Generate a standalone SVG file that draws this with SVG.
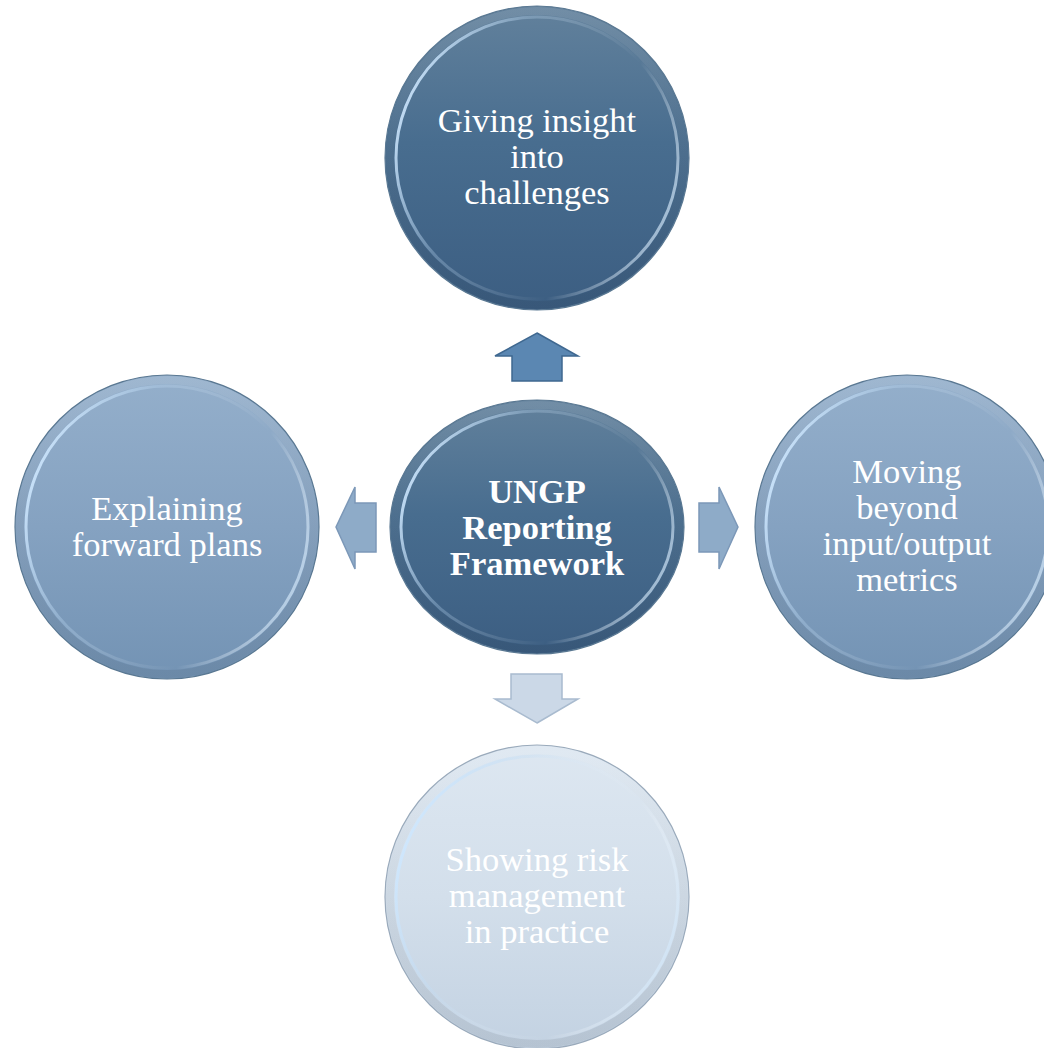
<svg xmlns="http://www.w3.org/2000/svg" width="1044" height="1048" viewBox="0 0 1044 1048">
  <defs>
    <linearGradient id="gDark" x1="0" y1="0" x2="0" y2="1">
      <stop offset="0" stop-color="#62819c"/>
      <stop offset="0.45" stop-color="#486d8f"/>
      <stop offset="1" stop-color="#3c5e82"/>
    </linearGradient>
    <linearGradient id="gMid" x1="0" y1="0" x2="0" y2="1">
      <stop offset="0" stop-color="#94afcb"/>
      <stop offset="0.5" stop-color="#85a2c1"/>
      <stop offset="1" stop-color="#7393b4"/>
    </linearGradient>
    <linearGradient id="gLight" x1="0" y1="0" x2="0" y2="1">
      <stop offset="0" stop-color="#dde7f1"/>
      <stop offset="0.5" stop-color="#d3dfeb"/>
      <stop offset="1" stop-color="#c3d2e2"/>
    </linearGradient>
    <linearGradient id="rim" x1="0" y1="0.3" x2="1" y2="0.7">
      <stop offset="0" stop-color="#cfe8ff" stop-opacity="0.95"/>
      <stop offset="0.3" stop-color="#c0dcf5" stop-opacity="0.3"/>
      <stop offset="0.7" stop-color="#ffffff" stop-opacity="0.0"/>
      <stop offset="1" stop-color="#cfe6fa" stop-opacity="0.75"/>
    </linearGradient>
    <linearGradient id="shade" x1="0" y1="0" x2="0" y2="1">
      <stop offset="0" stop-color="#ffffff" stop-opacity="0.1"/>
      <stop offset="1" stop-color="#000000" stop-opacity="0.07"/>
    </linearGradient>
  </defs>
  <style>
    .lbl { font-family: "Liberation Serif", "Times New Roman", serif; font-size: 34.5px; fill: #ffffff; text-anchor: middle; }
    .bold { font-weight: bold; }
    .edge { stroke: #5a7892; stroke-width: 1.2; }
    .ring { fill: none; stroke: url(#rim); stroke-width: 3; }
    .outer { fill: none; stroke: url(#shade); stroke-width: 8; }
  </style>

  <g id="connectors">
    <path id="arrow-up" d="M537,333 L578,356 L562,356 L562,381 L512,381 L512,356 L495,356 Z" fill="#5b87b2" stroke="#3f6890" stroke-width="1.5"/>
    <path id="arrow-left" d="M336,527 L355,487 L355,503 L376,503 L376,552 L355,552 L355,569 Z" fill="#8eabc8" stroke="#7c98b8" stroke-width="1.5"/>
    <path id="arrow-right" d="M738,527 L719,487 L719,503 L699,503 L699,552 L719,552 L719,569 Z" fill="#8eabc8" stroke="#7c98b8" stroke-width="1.5"/>
    <path id="arrow-down" d="M537,723 L578,699 L562,699 L562,674 L511,674 L511,699 L495,699 Z" fill="#cbd8e7" stroke="#a9bbcf" stroke-width="1.5"/>
  </g>

  <g id="node-top">
    <circle cx="537" cy="158" r="152" fill="url(#gDark)" class="edge"/>
    <circle cx="537" cy="158" r="147" class="outer"/>
    <circle cx="537" cy="158" r="141" class="ring"/>
    <text class="lbl" x="537" y="132">Giving insight</text>
    <text class="lbl" x="537" y="168">into</text>
    <text class="lbl" x="537" y="204">challenges</text>
  </g>

  <g id="node-center">
    <ellipse cx="537" cy="527" rx="147" ry="127" fill="url(#gDark)" class="edge"/>
    <ellipse cx="537" cy="527" rx="142" ry="122" class="outer"/>
    <ellipse cx="537" cy="527" rx="136" ry="116" class="ring"/>
    <text class="lbl bold" x="537" y="503">UNGP</text>
    <text class="lbl bold" x="537" y="539">Reporting</text>
    <text class="lbl bold" x="537" y="575">Framework</text>
  </g>

  <g id="node-left">
    <circle cx="167" cy="527" r="152" fill="url(#gMid)" class="edge"/>
    <circle cx="167" cy="527" r="147" class="outer"/>
    <circle cx="167" cy="527" r="141" class="ring"/>
    <text class="lbl" x="167" y="520">Explaining</text>
    <text class="lbl" x="167" y="556">forward plans</text>
  </g>

  <g id="node-right">
    <circle cx="907" cy="527" r="152" fill="url(#gMid)" class="edge"/>
    <circle cx="907" cy="527" r="147" class="outer"/>
    <circle cx="907" cy="527" r="141" class="ring"/>
    <text class="lbl" x="907" y="483">Moving</text>
    <text class="lbl" x="907" y="519">beyond</text>
    <text class="lbl" x="907" y="555">input/output</text>
    <text class="lbl" x="907" y="591">metrics</text>
  </g>

  <g id="node-bottom">
    <circle cx="537" cy="897" r="152" fill="url(#gLight)" stroke="#9aaabb" stroke-width="1.2"/>
    <circle cx="537" cy="897" r="147" class="outer"/>
    <circle cx="537" cy="897" r="141" class="ring"/>
    <text class="lbl" x="537" y="871">Showing risk</text>
    <text class="lbl" x="537" y="907">management</text>
    <text class="lbl" x="537" y="943">in practice</text>
  </g>
</svg>
